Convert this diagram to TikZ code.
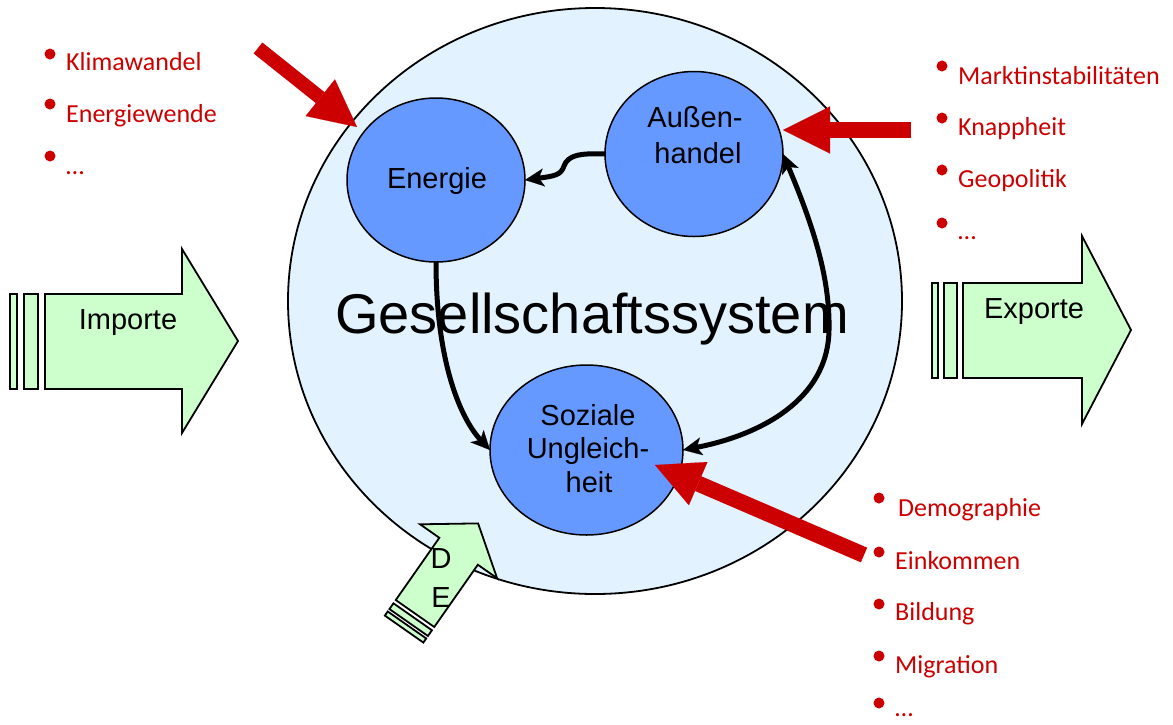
\documentclass[tikz,border=0pt]{standalone}
\usepackage{fontspec}
\setmainfont{Liberation Sans}
\newfontfamily\calfont{Carlito}
\usetikzlibrary{shapes.geometric,arrows.meta}
\definecolor{sysblue}{RGB}{226,243,255}
\definecolor{nodeblue}{RGB}{102,153,255}
\definecolor{arrgreen}{RGB}{204,255,204}
\definecolor{darkred}{RGB}{204,0,0}
\begin{document}
\begin{tikzpicture}[x=1pt,y=-1pt,
  circ/.style={ellipse, draw=black, line width=1.5pt, fill=nodeblue, inner sep=0pt, outer sep=0pt},
  lbl/.style={anchor=base, inner sep=0pt, font=\fontsize{29}{34}\selectfont},
  conn/.style={line width=5pt, -{Stealth[length=19pt,width=18pt,inset=5pt,line width=0.1pt]}},
  connboth/.style={line width=5pt, {Stealth[length=19pt,width=18pt,inset=5pt,line width=0.1pt]}-{Stealth[length=19pt,width=18pt,inset=5pt,line width=0.1pt]}},
  redarr/.style={draw=darkred, line width=#1, -{Triangle[length=47pt,width=47pt,line width=0.1pt]}},
  item/.style={anchor=base west, text=darkred, inner sep=0pt, font=\calfont\fontsize{26}{30}\selectfont},
  dot/.style={fill=darkred},
  bigarrow/.style={draw=black, line width=1.8pt, fill=arrgreen, line join=miter},
]
\useasboundingbox (0,0) rectangle (1173,724);

% system ellipse
\node[ellipse, draw=black, line width=1.8pt, fill=sysblue, minimum width=614pt, minimum height=586pt, inner sep=0pt, outer sep=0pt] (sys) at (595,301) {};
\node[anchor=base, inner sep=0pt, font=\fontsize{56}{60}\selectfont] (title) at (592,333) {Gesellschaftssystem};

% inner circles
\node[circ, minimum width=178pt, minimum height=164pt] (en) at (436,180) {};
\node[lbl] (entxt) at (437,188) {Energie};
\node[circ, minimum width=178pt, minimum height=165pt] (ah) at (694,154) {};
\node[lbl] (ahtxt1) at (695,127) {Außen-};
\node[lbl] (ahtxt2) at (698,163) {handel};
\node[circ, minimum width=193pt, minimum height=170pt] (soz) at (586.5,450) {};
\node[lbl] (soztxt1) at (588,425) {Soziale};
\node[lbl] (soztxt2) at (588,458) {Ungleich-};
\node[lbl] (soztxt3) at (589,492) {heit};

% black connectors
\draw[conn] (ah.west) .. controls (580,153) and (568,155) .. (564,166) .. controls (561,175) and (555,176) .. (en.east);
\draw[conn] (en.south) .. controls (436,365) and (462,420) .. (soz.west);
\draw[connboth] (ah.east) .. controls (815,230) and (830,280) .. (829,330) .. controls (828,400) and (760,435) .. (soz.east);

% DE arrow
\begin{scope}[shift={(415,613.5)}, rotate=55]
  \draw[bigarrow] (0,-23.5) -- (76,-23.5) -- (76,-47) -- (110,0) -- (76,47) -- (76,23.5) -- (0,23.5) -- cycle;
  \draw[bigarrow] (-4,-23.5) rectangle (-11,23.5);
  \draw[bigarrow] (-14,-23.5) rectangle (-19,23.5);
\end{scope}
\node[lbl] (de1) at (441,568) {D};
\node[lbl] (de2) at (441,607) {E};

% Importe arrow
\draw[bigarrow] (45,294) -- (182,294) -- (182,249) -- (238,341) -- (182,433) -- (182,389) -- (45,389) -- cycle;
\draw[bigarrow] (10,294) rectangle (17,389);
\draw[bigarrow] (24,294) rectangle (38,389);
\node[lbl] (imp) at (128,329) {Importe};

% Exporte arrow
\draw[bigarrow] (963,283) -- (1082,283) -- (1082,236) -- (1131,330) -- (1082,424) -- (1082,378) -- (963,378) -- cycle;
\draw[bigarrow] (932,283) rectangle (938,378);
\draw[bigarrow] (944,283) rectangle (957,378);
\node[lbl] (exp) at (1034,318) {Exporte};

% red arrows
\coordinate (r1s) at (258,48);
\coordinate (r1e) at (357,127);
\draw[redarr=14pt] (r1s) -- (r1e);
\coordinate (r2s) at (911,130);
\coordinate (r2e) at (783,130);
\draw[redarr=16pt] (r2s) -- (r2e);
\coordinate (r3s) at (864,555);
\coordinate (r3e) at (655,465);
\draw[redarr=16pt] (r3s) -- (r3e);

% left list
\fill[dot] (50,54) circle (5.5);
\node[item] (l1) at (66,70) {Klimawandel};
\fill[dot] (50,104) circle (5.5);
\node[item] (l2) at (66,122) {Energiewende};
\fill[dot] (50,156) circle (5.5);
\node[item] (l3) at (66,174) {…};

% right top list
\fill[dot] (942,66) circle (5.5);
\node[item] (t1) at (958,84) {Marktinstabilitäten};
\fill[dot] (942,118) circle (5.5);
\node[item] (t2) at (958,135) {Knappheit};
\fill[dot] (942,170) circle (5.5);
\node[item] (t3) at (958,187) {Geopolitik};
\fill[dot] (942,223) circle (5.5);
\node[item] (t4) at (958,239) {…};

% bottom right list
\fill[dot] (879,498) circle (5.5);
\node[item] (b1) at (898,516) {Demographie};
\fill[dot] (879,552) circle (5.5);
\node[item] (b2) at (895,569) {Einkommen};
\fill[dot] (879,604) circle (5.5);
\node[item] (b3) at (895,620) {Bildung};
\fill[dot] (879,656) circle (5.5);
\node[item] (b4) at (895,673) {Migration};
\fill[dot] (879,703) circle (5.5);
\node[item] (b5) at (895,716) {…};
\end{tikzpicture}
\end{document}
